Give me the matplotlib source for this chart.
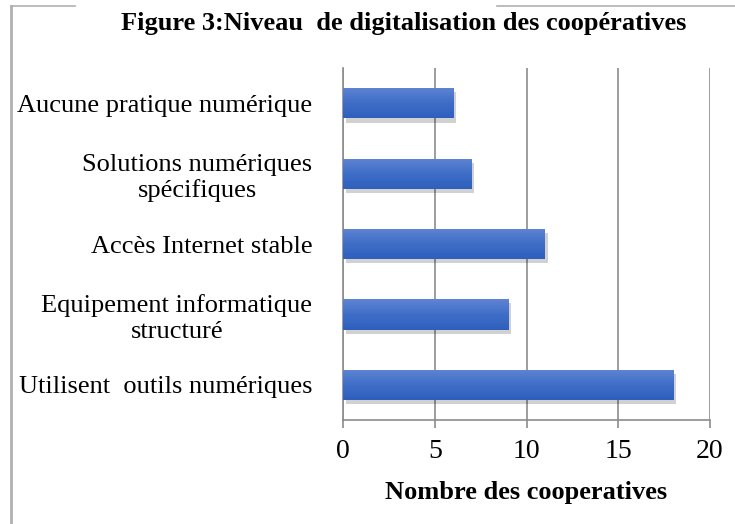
import numpy as np
import matplotlib.pyplot as plt
import matplotlib.patheffects as pe
from matplotlib.lines import Line2D
from matplotlib.colors import LinearSegmentedColormap

categories = [
    "Utilisent  outils numériques",
    "Equipement informatique\nstructuré",
    "Accès Internet stable",
    "Solutions numériques\nspécifiques",
    "Aucune pratique numérique",
]
values = [18, 9, 11, 7, 6]
xticks = [0, 5, 10, 15, 20]

plt.rcParams['font.family'] = ['Liberation Serif', 'DejaVu Serif']

fig = plt.figure(figsize=(7.35, 5.24), dpi=100)
ax = fig.add_axes([0.4667, 0.1985, 0.4993, 0.6715])

bars = ax.barh(categories, values, height=0.43, color="#4170c8", zorder=3,
               path_effects=[pe.SimplePatchShadow(offset=(2, -3), shadow_rgbFace="#000000", alpha=0.18),
                             pe.Normal()])

# vertical gradient on each bar
cmap = LinearSegmentedColormap.from_list("g", ["#2e5fbd", "#3f6ec8", "#5f84d2"])
grad = np.linspace(0, 1, 64).reshape(-1, 1)
for b in bars:
    x0, y0, w, h = b.get_x(), b.get_y(), b.get_width(), b.get_height()
    im = ax.imshow(grad, cmap=cmap, aspect="auto", extent=(x0, x0 + w, y0, y0 + h),
                   origin="lower", zorder=4)
    im.set_clip_path(b)

ax.set_xlim(0, 20)
ax.set_ylim(-0.5, 4.5)
ax.set_xticks(xticks)
ax.xaxis.grid(True, color="#8c8c8c", linewidth=1.2, zorder=0)
ax.set_axisbelow(True)
for s in ["top", "right"]:
    ax.spines[s].set_visible(False)
ax.spines["left"].set_color("#8c8c8c")
ax.spines["left"].set_linewidth(1.2)
ax.spines["bottom"].set_color("#8c8c8c")
ax.spines["bottom"].set_linewidth(1.2)
ax.tick_params(axis="y", length=0, pad=22, labelsize=19)
ax.tick_params(axis="x", length=6, width=1.2, color="#8c8c8c", labelsize=20, pad=8)
for t in ax.get_yticklabels():
    t.set_multialignment("center")

ax.set_xlabel("Nombre des cooperatives", fontsize=19, fontweight="bold", labelpad=12)

fig.text(0.549, 0.955, "Figure 3:Niveau  de digitalisation des coopératives",
         ha="center", va="center", fontsize=19, fontweight="bold")

# outer frame (partial, interrupted by title)
lc = "#b0b0b0"
fig.add_artist(Line2D([11 / 735, 11 / 735], [0, 1 - 6 / 524], color=lc, linewidth=2))
fig.add_artist(Line2D([11 / 735, 75 / 735], [1 - 6 / 524, 1 - 6 / 524], color=lc, linewidth=1.2))
fig.add_artist(Line2D([497 / 735, 1], [1 - 6 / 524, 1 - 6 / 524], color=lc, linewidth=1.2))

fig.savefig("out.png", dpi=100)
